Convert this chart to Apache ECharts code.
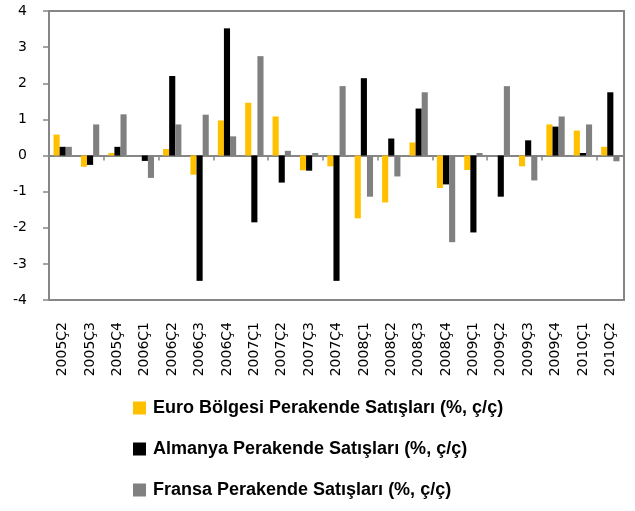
<!DOCTYPE html>
<html>
<head>
<meta charset="utf-8">
<script src="https://cdn.jsdelivr.net/npm/echarts@6/dist/echarts.min.js"></script>
<style>
  html, body { margin: 0; padding: 0; background: #fff; }
  #chart { width: 635px; height: 511px; }
</style>
</head>
<body>
<div id="chart"></div>
<script>
// Quarterly retail sales, % change quarter on quarter
const categories = ['2005Ç2','2005Ç3','2005Ç4','2006Ç1','2006Ç2','2006Ç3','2006Ç4','2007Ç1','2007Ç2','2007Ç3','2007Ç4',
  '2008Ç1','2008Ç2','2008Ç3','2008Ç4','2009Ç1','2009Ç2','2009Ç3','2009Ç4','2010Ç1','2010Ç2'];
const euroArea = [0.58, -0.31, 0.07, 0, 0.18, -0.53, 0.97, 1.46, 1.08, -0.41, -0.3, -1.74, -1.3, 0.36, -0.9, -0.4, 0, -0.3, 0.86, 0.69, 0.24];
const germany  = [0.24, -0.26, 0.24, -0.15, 2.2, -3.47, 3.52, -1.85, -0.75, -0.42, -3.47, 2.14, 0.47, 1.3, -0.8, -2.13, -1.14, 0.42, 0.8, 0.07, 1.75];
const france   = [0.24, 0.86, 1.14, -0.62, 0.86, 1.13, 0.53, 2.75, 0.13, 0.07, 1.92, -1.14, -0.58, 1.75, -2.4, 0.07, 1.92, -0.69, 1.08, 0.86, -0.16];
const seriesNames = [
  'Euro Bölgesi Perakende Satışları (%, ç/ç)',
  'Almanya Perakende Satışları (%, ç/ç)',
  'Fransa Perakende Satışları (%, ç/ç)'
];
const colors = ['#FFC000', '#000000', '#808080'];

const axisGray = '#868686';
const chart = echarts.init(document.getElementById('chart'));
chart.setOption({
  animation: false,
  color: colors,
  grid: { left: 49, right: 11, top: 11, bottom: 211, show: true, borderColor: axisGray, borderWidth: 2 },
  xAxis: [
    {
      type: 'category', data: categories, position: 'bottom',
      axisLine: { onZero: true, lineStyle: { color: axisGray, width: 2 } },
      axisTick: { show: true, length: 5, lineStyle: { color: axisGray, width: 1.5 } },
      axisLabel: { show: false }
    },
    {
      type: 'category', data: categories, position: 'bottom',
      axisLine: { show: false, onZero: false }, axisTick: { show: false },
      axisLabel: { rotate: 90, margin: 22, interval: 0, fontFamily: 'DejaVu Sans', fontSize: 14, color: '#000' }
    }
  ],
  yAxis: {
    type: 'value', min: -4, max: 4, interval: 1,
    axisLine: { show: true, lineStyle: { color: axisGray, width: 2 } },
    axisTick: { show: true, length: 6, lineStyle: { color: axisGray, width: 1.5 } },
    splitLine: { show: false },
    axisLabel: { margin: 22, fontFamily: 'DejaVu Sans', fontSize: 14, color: '#000' }
  },
  legend: {
    orient: 'vertical', left: 128, top: 393, height: 118, itemGap: 21,
    itemWidth: 13, itemHeight: 13, icon: 'rect',
    textStyle: { fontFamily: 'Liberation Sans', fontWeight: 'bold', fontSize: 18, color: '#000', lineHeight: 20, padding: [0, 0, 0, 2] },
    data: seriesNames
  },
  series: [
    { name: seriesNames[0], type: 'bar', data: euroArea, barGap: '0%', barCategoryGap: '33%' },
    { name: seriesNames[1], type: 'bar', data: germany, barGap: '0%', barCategoryGap: '33%' },
    { name: seriesNames[2], type: 'bar', data: france, barGap: '0%', barCategoryGap: '33%' }
  ]
});
</script>
</body>
</html>
